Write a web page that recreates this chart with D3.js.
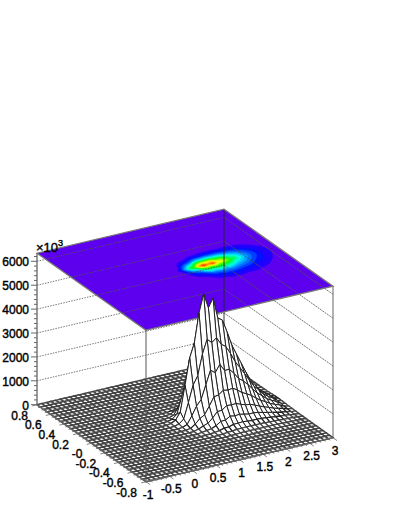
<!DOCTYPE html>
<html>
<head>
<meta charset="utf-8">
<script src="https://cdn.jsdelivr.net/npm/d3@7"></script>
<style>
  body { margin: 0; background: #fff; }
  text { font-family: "Liberation Sans", sans-serif; font-size: 12px; fill: #000; stroke: #000; stroke-width: 0.4px; }
</style>
</head>
<body>
<div id="chart"></div>
<script>
const xTicks = [-1, -0.5, 0, 0.5, 1, 1.5, 2, 2.5, 3];
const xLabels = ["-1", "-0.5", "0", "0.5", "1", "1.5", "2", "2.5", "3"];
const yTicks = [0.8, 0.6, 0.4, 0.2, 0, -0.2, -0.4, -0.6, -0.8];
const yLabels = ["0.8", "0.6", "0.4", "0.2", "-0", "-0.2", "-0.4", "-0.6", "-0.8"];
const zTicks = [0, 1000, 2000, 3000, 4000, 5000, 6000];

const xDomain = [-1, 3];
const yDomain = [-0.8, 0.8];
const zMax = 6340;
const contourMax = 5300;
const xBins = 40;
const yBins = 32;

// surface heights, only the part that lifts off the floor. rows start at yBin 7, columns at xBin 16
const firstRow = 7;
const firstCol = 16;
const zRows = [
  [0,0,0,0,0,0,0,0,5,9,15,16,15,17,16,17,17,16,15,13,10,8,7,3,1],
  [0,0,0,0,0,3,6,9,21,23,39,40,42,40,38,41,41,39,35,29,23,18,14,6,2],
  [0,0,0,0,3,8,16,26,51,63,88,88,97,93,87,92,86,80,70,58,46,36,27,11,5],
  [0,0,1,2,12,26,38,70,129,135,195,200,212,193,177,184,169,153,130,108,83,64,46,19,8],
  [0,1,2,6,30,65,95,176,308,316,439,400,425,382,341,345,320,270,227,183,137,104,76,30,12],
  [0,2,6,17,75,156,223,395,617,631,781,760,772,697,628,598,526,438,356,291,211,156,111,43,18],
  [1,4,14,43,180,364,477,790,1131,1173,1318,1280,1312,1195,1037,943,827,672,529,432,308,224,157,60,24],
  [3,10,35,108,420,780,1018,1580,2150,2000,2300,2000,2007,1793,1529,1380,1184,949,734,581,410,296,202,77,31],
  [6,22,77,237,870,1560,1908,2766,3341,3157,3318,3000,2856,2523,2129,1840,1542,1226,929,730,507,360,246,92,37],
  [10,40,140,430,1500,2600,3180,4390,5140,4510,4880,4000,3860,3320,2730,2300,1880,1460,1080,830,570,400,270,100,40],
  [6,22,77,237,900,1612,2099,3161,3598,3608,3806,3280,3242,2822,2348,2024,1692,1314,983,764,524,368,248,92,37],
  [2,8,28,86,375,676,954,1493,1850,1894,2050,1920,1930,1760,1529,1380,1184,964,756,598,422,296,200,74,30],
  [1,2,8,26,120,234,318,527,720,767,878,880,926,863,764,736,677,569,454,365,268,188,127,47,19],
  [0,1,2,6,30,65,95,176,257,271,317,320,347,332,300,322,320,292,248,208,154,108,73,27,11],
  [0,0,0,1,8,16,25,44,77,81,98,100,116,116,109,115,122,117,108,91,74,52,35,13,5],
  [0,0,0,0,0,3,6,13,21,23,29,32,39,40,35,39,41,44,38,33,29,20,14,5,2],
  [0,0,0,0,0,0,0,0,0,5,10,8,12,10,11,12,11,12,11,10,9,6,4,2,1]
];

// contour colours, one per 1/20 of the contour range
const contourColors = [
  "#5c00ee", "#2000ff", "#0010ff", "#0040ff", "#0070ff", "#00a0ff", "#00d0ff", "#00ffe0",
  "#00ffa0", "#00ff60", "#00ff20", "#30ff00", "#70ff00", "#b0ff00", "#f0ff00", "#ffd000",
  "#ffa000", "#ff7000", "#ff4000", "#ff1000"
];

const w = 399;
const h = 516;

var svg = d3.select("#chart").append("svg")
  .attr("width", w)
  .attr("height", h)
  .style("display", "block");

var xScale = d3.scaleLinear().domain(xDomain).range([0, 1]);
var yScale = d3.scaleLinear().domain(yDomain).range([0, 1]);
var zScale = d3.scaleLinear().domain([0, zMax]).range([0, 151.5]);

// the fixed 3d view: x runs up to the right, y up to the left
function project(x, y, z) {
  var u = xScale(x), v = yScale(y);
  return [146 + 187 * u - 109 * v, 481.7 - 44 * u - 77 * v - zScale(z)];
}

var line = d3.line();
var xMin = xDomain[0], xMax = xDomain[1], yMin = yDomain[0], yMax = yDomain[1];

// full grid of node heights
var grid = d3.range(yBins + 1).map(function(j) {
  return d3.range(xBins + 1).map(function(i) {
    var row = zRows[j - firstRow];
    var val = row ? row[i - firstCol] : 0;
    return val === undefined ? 0 : val;
  });
});
var xAt = d3.scaleLinear().domain([0, xBins]).range(xDomain);
var yAt = d3.scaleLinear().domain([0, yBins]).range(yDomain);

// contour plane on the lid
var lid = svg.append("g");
var flat = [].concat.apply([], grid);
var thresholds = d3.range(1, contourColors.length).map(function(k) { return k * contourMax / contourColors.length; });
var contours = d3.contours().size([xBins + 1, yBins + 1]).smooth(true).thresholds(thresholds)(flat);
var lidPath = d3.geoPath().projection(d3.geoTransform({
  point: function(px, py) {
    var p = project(xAt(px - 0.5), yAt(py - 0.5), zMax);
    this.stream.point(p[0], p[1]);
  }
}));

lid.append("path")
  .attr("d", line([project(xMin, yMin, zMax), project(xMax, yMin, zMax), project(xMax, yMax, zMax), project(xMin, yMax, zMax)]) + "Z")
  .attr("fill", contourColors[0]);

lid.selectAll("path.band")
  .data(contours)
  .enter()
  .append("path")
  .attr("class", "band")
  .attr("d", lidPath)
  .attr("fill", function(d, k) { return contourColors[k + 1]; });

// wall grid lines
var wallLines = svg.append("g")
  .attr("fill", "none")
  .attr("stroke", "#555")
  .attr("stroke-width", 0.8);

zTicks.slice(1).forEach(function(z) {
  wallLines.append("path").attr("stroke-dasharray", "1.5,1.2").attr("d", line([project(xMin, yMax, z), project(xMax, yMax, z)]));
  wallLines.append("path").attr("stroke-dasharray", "2,0.8").attr("d", line([project(xMax, yMax, z), project(xMax, yMin, z)]));
});

// back edges of the box
svg.append("path")
  .attr("d", line([project(xMax, yMax, 0), project(xMax, yMax, zMax)]))
  .attr("stroke", "#222").attr("stroke-width", 0.9);
svg.append("path")
  .attr("d", line([project(xMax, yMin, 0), project(xMax, yMin, zMax)]))
  .attr("stroke", "#666").attr("stroke-width", 1);

// lid outline
svg.append("path")
  .attr("d", line([project(xMin, yMin, zMax), project(xMax, yMin, zMax), project(xMax, yMax, zMax), project(xMin, yMax, zMax)]) + "Z")
  .attr("fill", "none").attr("stroke", "#777").attr("stroke-width", 1.3);

// surface cells, far corner first so nearer ones paint over
var cells = [];
for (var i = xBins - 1; i >= 0; i--) {
  for (var j = yBins - 1; j >= 0; j--) {
    var corners = [grid[j][i], grid[j][i + 1], grid[j + 1][i + 1], grid[j + 1][i]];
    cells.push({
      top: d3.max(corners),
      points: [
        project(xAt(i), yAt(j), corners[0]),
        project(xAt(i + 1), yAt(j), corners[1]),
        project(xAt(i + 1), yAt(j + 1), corners[2]),
        project(xAt(i), yAt(j + 1), corners[3])
      ]
    });
  }
}

// the floor reads as a grey weave, the lifted part as thin dark wires
svg.append("g").selectAll("path")
  .data(cells)
  .enter()
  .append("path")
  .attr("d", function(d) { return line(d.points) + "Z"; })
  .attr("fill", "#fff")
  .attr("stroke", function(d) { return d.top < 100 ? "#444" : "#222"; })
  .attr("stroke-width", function(d) { return d.top < 30 ? 1.5 : d.top < 200 ? 1.25 : 1; });

// front vertical edge
svg.append("path")
  .attr("d", line([project(xMin, yMin, 0), project(xMin, yMin, zMax)]))
  .attr("stroke", "#555").attr("stroke-width", 1);

// axes
var axes = svg.append("g").attr("fill", "none").attr("stroke", "#666").attr("stroke-width", 1.3);
axes.append("path").attr("d", line([project(xMin, yMax, 0), project(xMin, yMax, zMax)]));
axes.append("path").attr("d", line([project(xMin, yMax, 0), project(xMin, yMin, 0), project(xMax, yMin, 0)]));

var zTickMarks = d3.range(0, zMax, 200);
axes.selectAll("path.ztick")
  .data(zTickMarks)
  .enter()
  .append("path")
  .attr("class", "ztick")
  .attr("stroke-width", 1)
  .attr("d", function(z) {
    var p = project(xMin, yMax, z);
    return line([p, [p[0] - (z % 1000 === 0 ? 6 : 3), p[1]]]);
  });

var xTickMarks = d3.range(0, 41).map(function(k) { return xMin + k * 0.1; });
axes.selectAll("path.xtick")
  .data(xTickMarks)
  .enter()
  .append("path")
  .attr("class", "xtick")
  .attr("stroke-width", 0.8)
  .attr("d", function(x, k) {
    var p = project(x, yMin, 0);
    var len = k % 5 === 0 ? 5 : 2.5;
    return line([p, [p[0] + len * 0.82, p[1] + len * 0.58]]);
  });

var yTickMarks = d3.range(0, 33).map(function(k) { return yMin + k * 0.05; });
axes.selectAll("path.ytick")
  .data(yTickMarks)
  .enter()
  .append("path")
  .attr("class", "ytick")
  .attr("stroke-width", 0.8)
  .attr("d", function(y, k) {
    var p = project(xMin, y, 0);
    var len = k % 4 === 0 ? 5 : 2.5;
    return line([p, [p[0] - len * 0.97, p[1] + len * 0.23]]);
  });

// tick labels
svg.append("g").selectAll("text")
  .data(zTicks)
  .enter()
  .append("text")
  .attr("x", 29)
  .attr("y", function(z) { return project(xMin, yMax, z)[1] + 5; })
  .attr("text-anchor", "end")
  .text(function(z) { return z; });

svg.append("g").selectAll("text")
  .data(xTicks)
  .enter()
  .append("text")
  .attr("x", function(x) { return project(x, yMin, 0)[0] + 2; })
  .attr("y", function(x) { return project(x, yMin, 0)[1] + 17; })
  .attr("text-anchor", "middle")
  .text(function(x, k) { return xLabels[k]; });

svg.append("g").selectAll("text")
  .data(yTicks)
  .enter()
  .append("text")
  .attr("x", function(y) { return project(xMin, y, 0)[0] - 9; })
  .attr("y", function(y) { return project(xMin, y, 0)[1] + 15; })
  .attr("text-anchor", "end")
  .text(function(y, k) { return yLabels[k]; });

var power = svg.append("text").attr("x", 36).attr("y", 252).style("font-size", "13px").text("\u00d710");
power.append("tspan").attr("dy", -6).style("font-size", "9px").text("3");
</script>
</body>
</html>
